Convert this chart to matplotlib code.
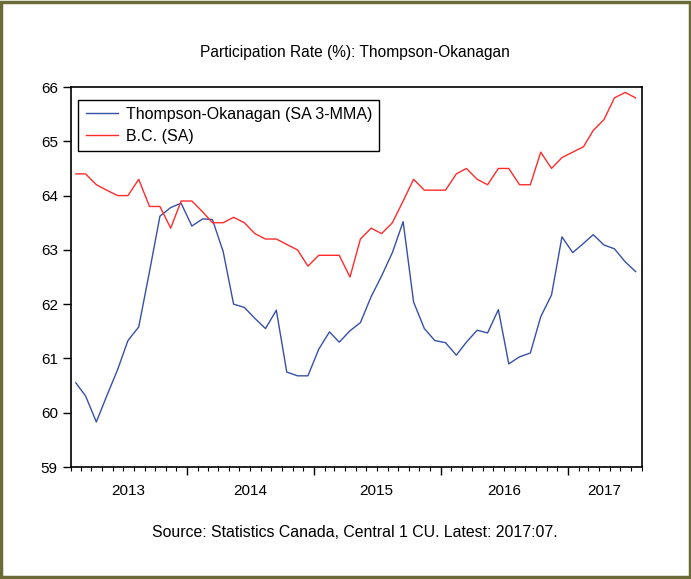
import numpy as np
import pandas as pd
import matplotlib
matplotlib.use("Agg")
import matplotlib.pyplot as plt
import matplotlib.dates as mdates
from matplotlib.patches import Rectangle

plt.rcParams['font.family'] = ['Liberation Sans', 'DejaVu Sans']

# monthly data, 2013:02 - 2017:07
start, end = "2013-02-01", "2017-07-01"
thompson = [60.55, 60.31, 59.83, 60.31, 60.79, 61.33, 61.58, 62.60, 63.62, 63.78,
            63.86, 63.44, 63.57, 63.56, 62.97, 62.00, 61.94, 61.74, 61.55, 61.89,
            60.75, 60.68, 60.68, 61.17, 61.49, 61.30, 61.51, 61.66, 62.14, 62.52,
            62.95, 63.52, 62.04, 61.55, 61.33, 61.29, 61.06, 61.30, 61.52, 61.47,
            61.90, 60.90, 61.03, 61.10, 61.77, 62.17, 63.24, 62.95, 63.12, 63.28,
            63.09, 63.02, 62.78, 62.60]
bc = [64.4, 64.4, 64.2, 64.1, 64.0, 64.0, 64.3, 63.8, 63.8, 63.4,
      63.9, 63.9, 63.7, 63.5, 63.5, 63.6, 63.5, 63.3, 63.2, 63.2,
      63.1, 63.0, 62.7, 62.9, 62.9, 62.9, 62.5, 63.2, 63.4, 63.3,
      63.5, 63.9, 64.3, 64.1, 64.1, 64.1, 64.4, 64.5, 64.3, 64.2,
      64.5, 64.5, 64.2, 64.2, 64.8, 64.5, 64.7, 64.8, 64.9, 65.2,
      65.4, 65.8, 65.9, 65.8]
years = ["2013", "2014", "2015", "2016", "2017"]
year_label_pos = ["2013-07-16", "2014-07-01", "2015-07-01", "2016-07-01", "2017-04-15"]

dates = pd.date_range(start, end, freq="MS") + pd.Timedelta(days=14)

fig = plt.figure(figsize=(6.91, 5.79), dpi=100)
ax = fig.add_axes([0.1027, 0.1934, 0.8257, 0.6563])

ax.plot(dates, thompson, color="#3650a8", lw=1.0, label="Thompson-Okanagan (SA 3-MMA)")
ax.plot(dates, bc, color="#ff2b2b", lw=1.0, label="B.C. (SA)")

ax.set_xlim(pd.Timestamp("2013-02-01"), pd.Timestamp("2017-08-01"))
ax.set_ylim(59, 66)
ax.set_yticks(range(59, 67))
ax.tick_params(axis="y", direction="out", length=5.5, width=1.0, labelsize=11, pad=4)

ax.xaxis.set_major_locator(mdates.YearLocator())
ax.xaxis.set_minor_locator(mdates.MonthLocator())
ax.xaxis.set_major_formatter(plt.NullFormatter())
ax.tick_params(axis="x", which="major", direction="out", length=6, width=1.0)
ax.tick_params(axis="x", which="minor", direction="out", length=3, width=0.8)
for y, p in zip(years, year_label_pos):
    ax.text(pd.Timestamp(p), -0.045, y, transform=ax.get_xaxis_transform(),
            ha="center", va="top", fontsize=11)

for s in ax.spines.values():
    s.set_linewidth(1.2)

leg = ax.legend(loc="upper left", bbox_to_anchor=(0.013, 0.967), fontsize=11.5,
                fancybox=False, framealpha=1, edgecolor="black",
                handlelength=2.0, handletextpad=0.5, borderpad=0.45,
                labelspacing=0.45, borderaxespad=0)
leg.get_frame().set_linewidth(1.0)

fig.text(0.514, 0.91, "Participation Rate (%): Thompson-Okanagan",
         ha="center", va="center", fontsize=11.2)
fig.text(0.514, 0.081, "Source: Statistics Canada, Central 1 CU. Latest: 2017:07.",
         ha="center", va="center", fontsize=11.4)

# outer frame
fig.patches.append(Rectangle((0.002, 0.003), 0.996, 0.994, transform=fig.transFigure,
                             fill=False, edgecolor="#6b6b38", linewidth=2.5))

fig.savefig("out.png", dpi=100)
